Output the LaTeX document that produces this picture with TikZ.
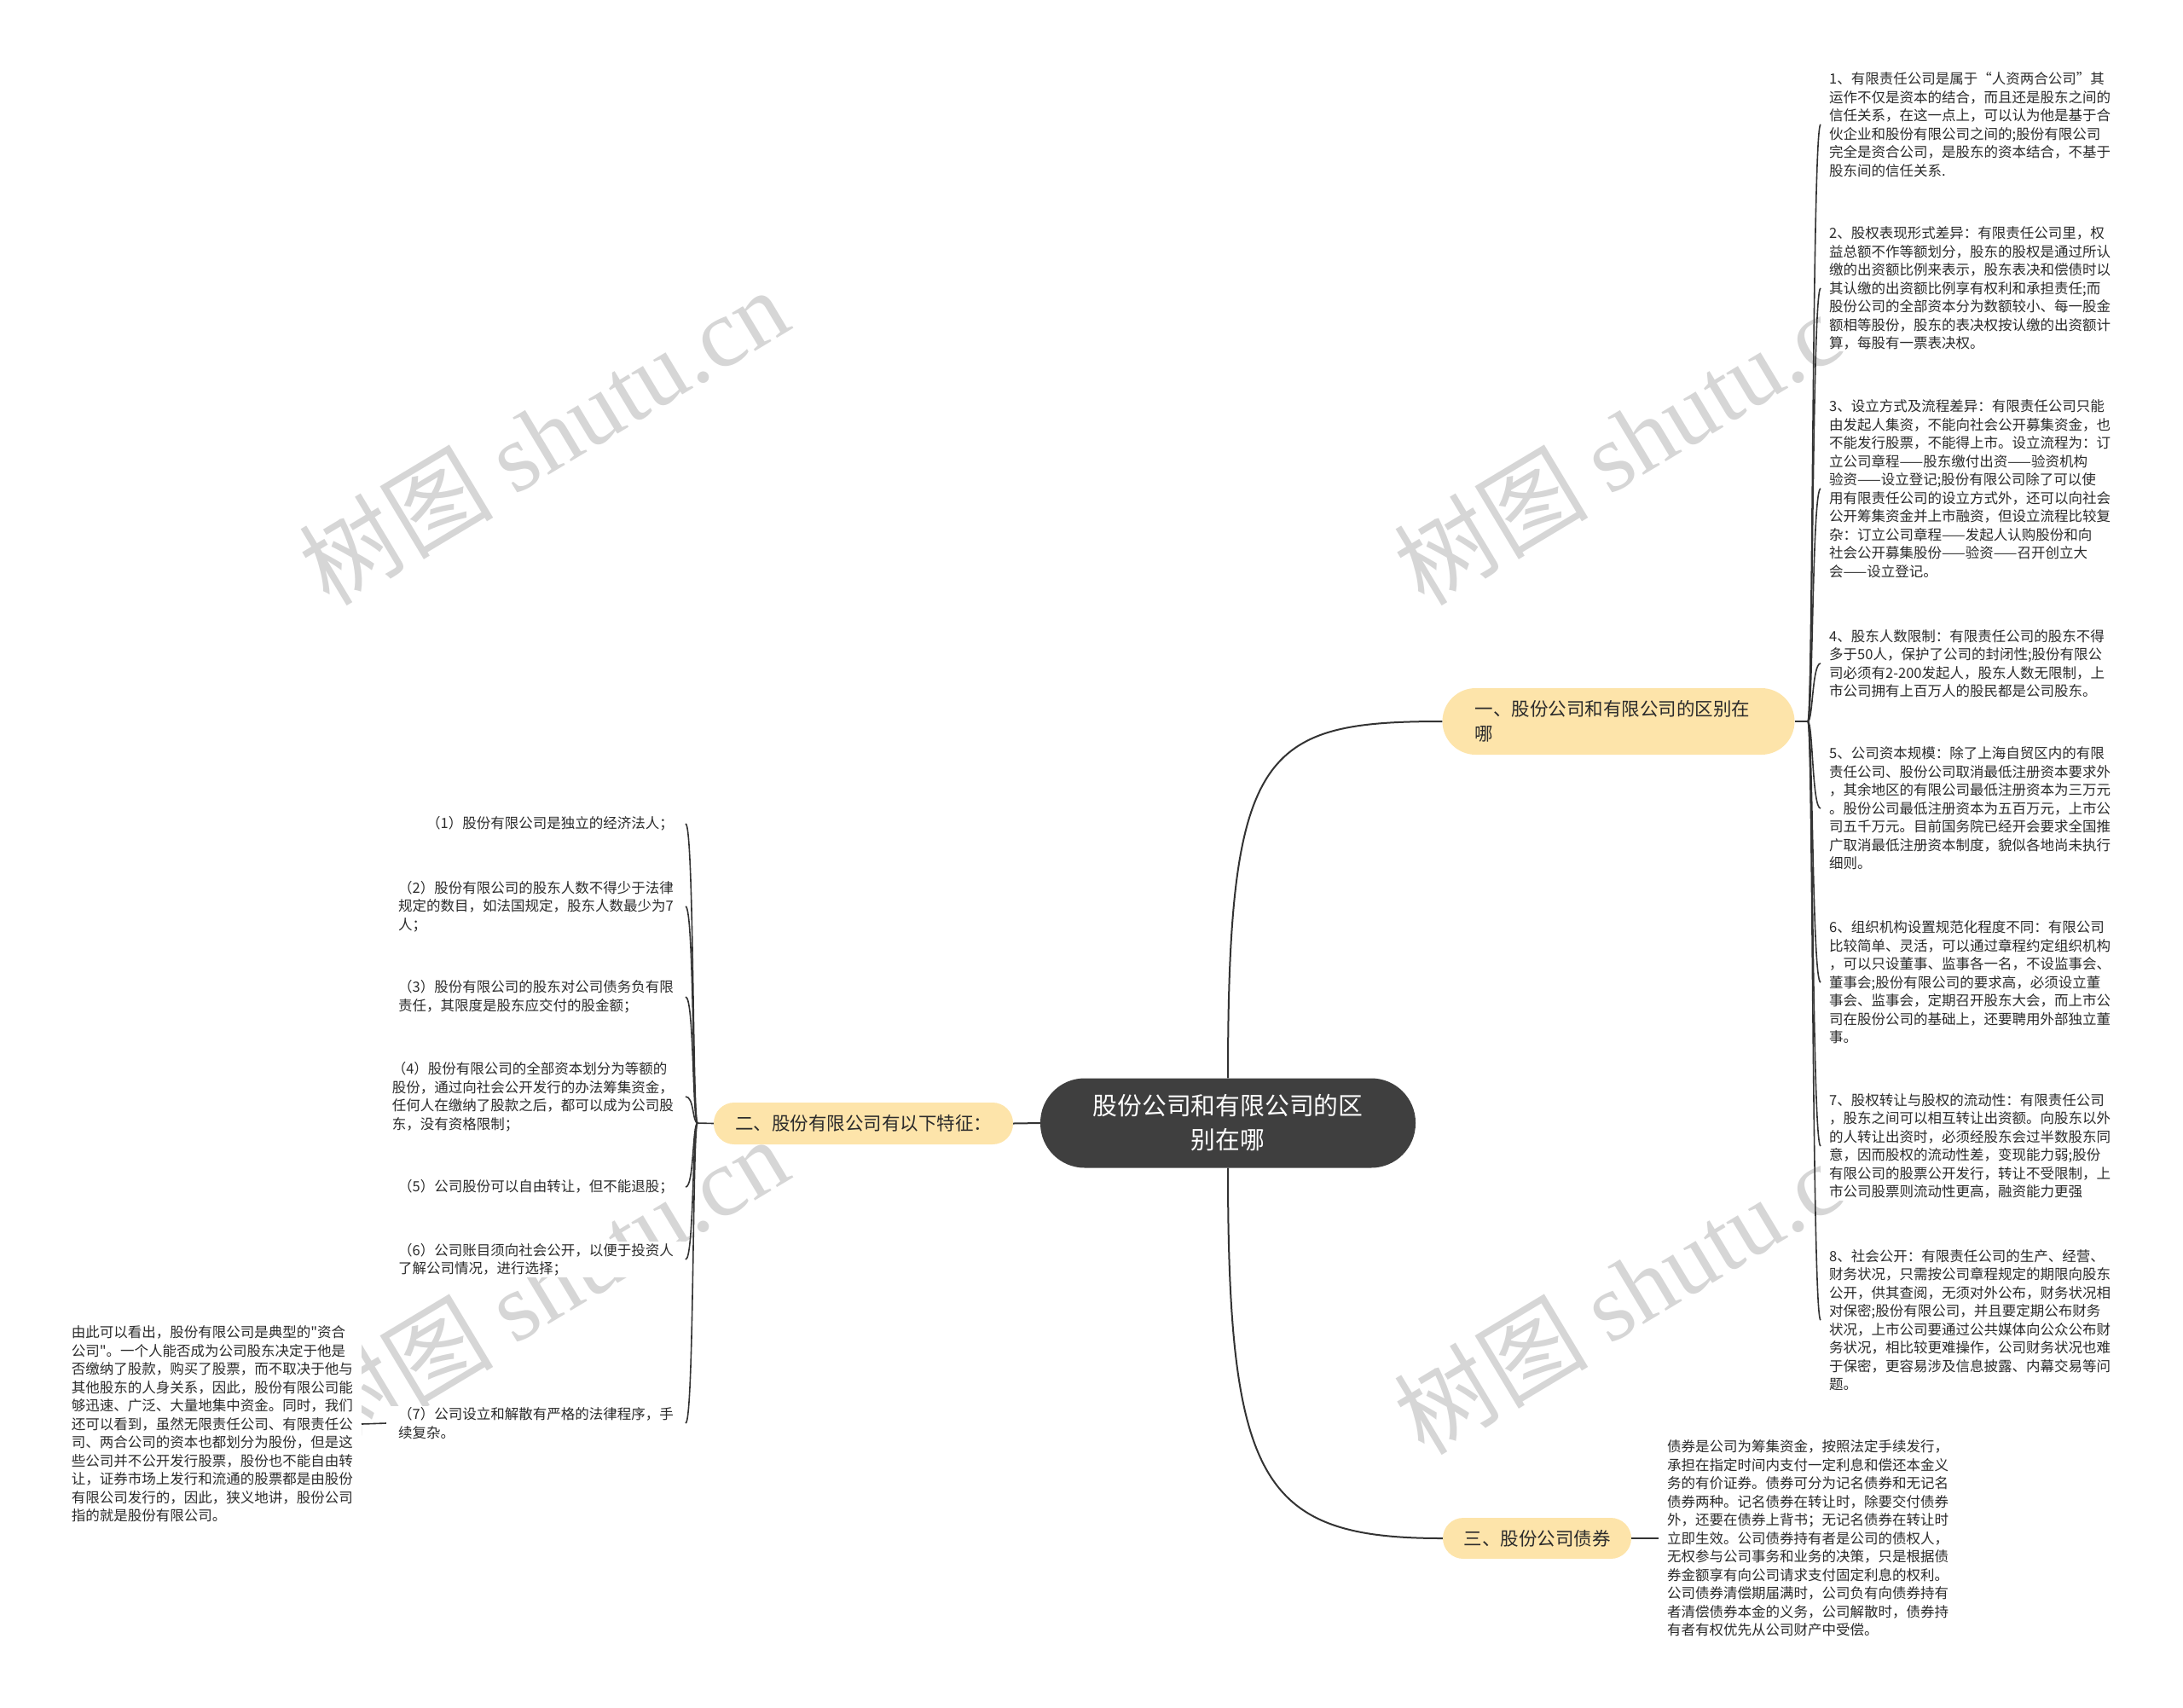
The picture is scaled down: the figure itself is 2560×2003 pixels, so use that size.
\documentclass[tikz,border=0pt]{standalone}
\usepackage{fontspec}
\setmainfont{Noto Sans CJK SC}[Ligatures=TeXOff]
\newfontfamily\wmlatin{Liberation Serif}
\usetikzlibrary{calc}
\definecolor{txt}{HTML}{2B2B2B}
\definecolor{branchfill}{HTML}{FDE4AA}
\definecolor{centerfill}{HTML}{3F3F3F}
\definecolor{linec}{HTML}{333333}
\definecolor{wm}{HTML}{D6D6D6}
\begin{document}
\begin{tikzpicture}[x=1pt,y=-1pt,
  leaf/.style={fill=white, inner xsep=10pt, inner ysep=2pt, align=left, text=txt,
    font=\fontsize{16.5}{21.5}\selectfont},
  leftleaf/.style={leaf, inner xsep=14pt, anchor=east},
  rightleaf/.style={leaf, anchor=west},
  branch/.style={fill=branchfill, text=txt, inner sep=0pt, font=\fontsize{21.5}{29}\selectfont},
  centernode/.style={fill=centerfill, text=white, inner sep=0pt, align=center,
    minimum width=440pt, minimum height=105pt, rounded corners=52pt,
    font=\fontsize{28.8}{40}\selectfont},
  conn/.style={draw=linec, line width=2pt},
  bracket/.style={draw=linec, line width=1.6pt},
  watermark/.style={text=wm, rotate=31, inner sep=0pt, font=\fontsize{114}{114}\selectfont}
]
\useasboundingbox (0,0) rectangle (2560,2003);
% watermarks
\node[watermark] (wm1) at (637,511) {树图 {\wmlatin shutu.cn}};
\node[watermark] (wm2) at (1921,511) {树图 {\wmlatin shutu.cn}};
\node[watermark] (wm3) at (637,1507) {树图 {\wmlatin shutu.cn}};
\node[watermark] (wm4) at (1921,1507) {树图 {\wmlatin shutu.cn}};

% center and branches
\node[centernode] (c) at (1440,1317) {股份公司和有限公司的区\\别在哪};
\node[branch, minimum width=413pt, minimum height=78pt, rounded corners=39pt,
  text width=337pt, align=left] (b1) at (1898,846) {一、股份公司和有限公司的区别在\\哪};
\node[branch, minimum width=351pt, minimum height=49pt, rounded corners=24pt] (b2) at (1012.5,1317.5) {二、股份有限公司有以下特征：};
\node[branch, minimum width=221pt, minimum height=48pt, rounded corners=24pt] (b3) at (1802.5,1804) {三、股份公司债券};

% right leaves
\node[rightleaf] (R1) at (2135,146) {1、有限责任公司是属于“人资两合公司”其\\运作不仅是资本的结合，而且还是股东之间的\\信任关系，在这一点上，可以认为他是基于合\\伙企业和股份有限公司之间的;股份有限公司\\完全是资合公司，是股东的资本结合，不基于\\股东间的信任关系.};
\node[rightleaf] (R2) at (2135,338) {2、股权表现形式差异：有限责任公司里，权\\益总额不作等额划分，股东的股权是通过所认\\缴的出资额比例来表示，股东表决和偿债时以\\其认缴的出资额比例享有权利和承担责任;而\\股份公司的全部资本分为数额较小、每一股金\\额相等股份，股东的表决权按认缴的出资额计\\算，每股有一票表决权。};
\node[rightleaf] (R3) at (2135,573) {3、设立方式及流程差异：有限责任公司只能\\由发起人集资，不能向社会公开募集资金，也\\不能发行股票，不能得上市。设立流程为：订\\立公司章程——股东缴付出资——验资机构\\验资——设立登记;股份有限公司除了可以使\\用有限责任公司的设立方式外，还可以向社会\\公开筹集资金并上市融资，但设立流程比较复\\杂：订立公司章程——发起人认购股份和向\\社会公开募集股份——验资——召开创立大\\会——设立登记。};
\node[rightleaf] (R4) at (2135,778) {4、股东人数限制：有限责任公司的股东不得\\多于50人，保护了公司的封闭性;股份有限公\\司必须有2-200发起人，股东人数无限制，上\\市公司拥有上百万人的股民都是公司股东。};
\node[rightleaf] (R5) at (2135,948) {5、公司资本规模：除了上海自贸区内的有限\\责任公司、股份公司取消最低注册资本要求外\\，其余地区的有限公司最低注册资本为三万元\\。股份公司最低注册资本为五百万元，上市公\\司五千万元。目前国务院已经开会要求全国推\\广取消最低注册资本制度，貌似各地尚未执行\\细则。};
\node[rightleaf] (R6) at (2135,1152) {6、组织机构设置规范化程度不同：有限公司\\比较简单、灵活，可以通过章程约定组织机构\\，可以只设董事、监事各一名，不设监事会、\\董事会;股份有限公司的要求高，必须设立董\\事会、监事会，定期召开股东大会，而上市公\\司在股份公司的基础上，还要聘用外部独立董\\事。};
\node[rightleaf] (R7) at (2135,1344) {7、股权转让与股权的流动性：有限责任公司\\，股东之间可以相互转让出资额。向股东以外\\的人转让出资时，必须经股东会过半数股东同\\意，因而股权的流动性差，变现能力弱;股份\\有限公司的股票公开发行，转让不受限制，上\\市公司股票则流动性更高，融资能力更强};
\node[rightleaf] (R8) at (2135,1548) {8、社会公开：有限责任公司的生产、经营、\\财务状况，只需按公司章程规定的期限向股东\\公开，供其查阅，无须对外公布，财务状况相\\对保密;股份有限公司，并且要定期公布财务\\状况，上市公司要通过公共媒体向公众公布财\\务状况，相比较更难操作，公司财务状况也难\\于保密，更容易涉及信息披露、内幕交易等问\\题。};

% bond text
\node[rightleaf] (B) at (1945,1804) {债券是公司为筹集资金，按照法定手续发行，\\承担在指定时间内支付一定利息和偿还本金义\\务的有价证券。债券可分为记名债券和无记名\\债券两种。记名债券在转让时，除要交付债券\\外，还要在债券上背书；无记名债券在转让时\\立即生效。公司债券持有者是公司的债权人，\\无权参与公司事务和业务的决策，只是根据债\\券金额享有向公司请求支付固定利息的权利。\\公司债券清偿期届满时，公司负有向债券持有\\者清偿债券本金的义务，公司解散时，债券持\\有者有权优先从公司财产中受偿。};

% left leaves
\node[leftleaf] (L1) at (804,966) {（1）股份有限公司是独立的经济法人；};
\node[leftleaf] (L2) at (804,1063) {（2）股份有限公司的股东人数不得少于法律\\规定的数目，如法国规定，股东人数最少为7\\人；};
\node[leftleaf] (L3) at (804,1169) {（3）股份有限公司的股东对公司债务负有限\\责任，其限度是股东应交付的股金额；};
\node[leftleaf] (L4) at (804,1286) {（4）股份有限公司的全部资本划分为等额的\\股份，通过向社会公开发行的办法筹集资金，\\任何人在缴纳了股款之后，都可以成为公司股\\东，没有资格限制；};
\node[leftleaf] (L5) at (804,1392) {（5）公司股份可以自由转让，但不能退股；};
\node[leftleaf] (L6) at (804,1477) {（6）公司账目须向社会公开，以便于投资人\\了解公司情况，进行选择；};
\node[leftleaf] (L7) at (804,1669) {（7）公司设立和解散有严格的法律程序，手\\续复杂。};

% left paragraph
\node[leaf, anchor=east] (P) at (424,1670) {由此可以看出，股份有限公司是典型的"资合\\公司"。一个人能否成为公司股东决定于他是\\否缴纳了股款，购买了股票，而不取决于他与\\其他股东的人身关系，因此，股份有限公司能\\够迅速、广泛、大量地集中资金。同时，我们\\还可以看到，虽然无限责任公司、有限责任公\\司、两合公司的资本也都划分为股份，但是这\\些公司并不公开发行股票，股份也不能自由转\\让，证券市场上发行和流通的股票都是由股份\\有限公司发行的，因此，狭义地讲，股份公司\\指的就是股份有限公司。};

% connectors
\draw[conn] (c.north) .. controls (1440,880) and (1480,846) .. (b1.west);
\draw[conn] (c.south) .. controls (1440,1740) and (1480,1804) .. (b3.west);
\draw[conn] (c.west) -- (b2.east);

\coordinate (r1) at (2120,846);
\draw[bracket] (b1.east) -- (r1);
\foreach \n in {1,...,8}
  \draw[bracket] (r1) .. controls ($(r1)+(6,0)$) and ($(R\n.west)+(-10,0)$) .. (R\n.west);

\coordinate (l2) at (818,1317);
\draw[bracket] (b2.west) -- (l2);
\foreach \n in {1,...,7}
  \draw[bracket] (l2) .. controls ($(l2)+(-6,0)$) and ($(L\n.east)+(10,0)$) .. (L\n.east);

\draw[bracket] (L7.west) -- (P.east);
\draw[bracket] (b3.east) -- (B.west);
\end{tikzpicture}
\end{document}
